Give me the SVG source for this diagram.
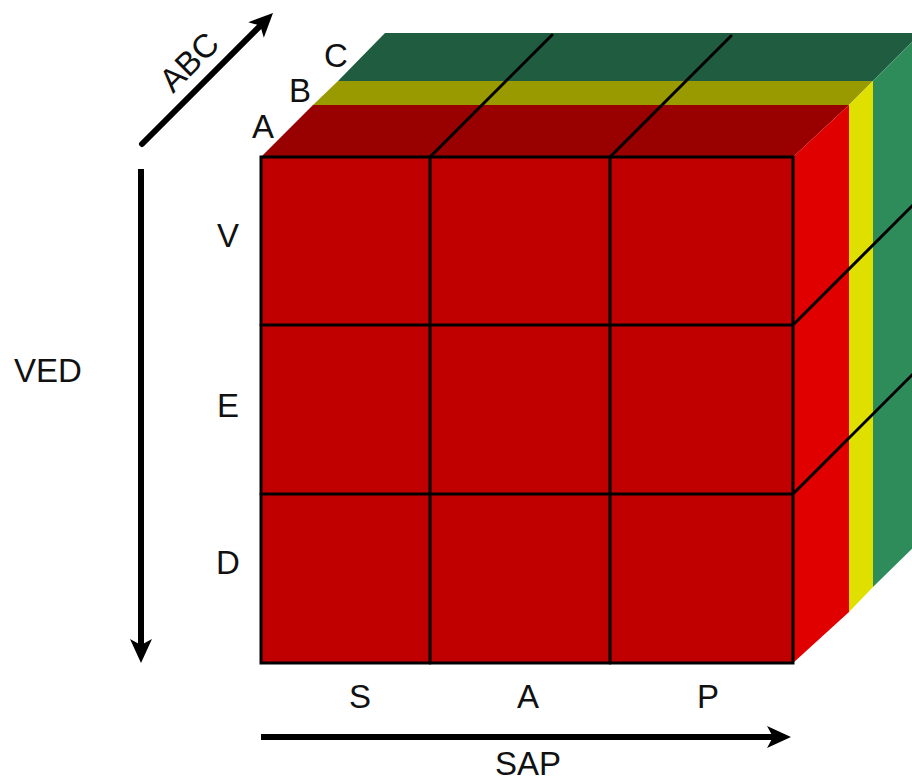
<svg xmlns="http://www.w3.org/2000/svg" width="912" height="783" viewBox="0 0 912 783">
  <style>
    .lbl { font-family: "Liberation Sans", Arial, sans-serif; font-size: 33px; fill: #111; text-anchor: middle; }
    .grid { stroke: #000; stroke-width: 3; fill: none; stroke-linecap: round; }
    .axis { stroke: #000; stroke-width: 6; fill: none; marker-end: url(#head); }
  </style>
  <defs>
    <marker id="head" markerUnits="userSpaceOnUse" viewBox="-9 -12 26 24" markerWidth="26" markerHeight="24" refX="0" refY="0" orient="auto">
      <path d="M16,0 L-8,-11 L-2,0 L-8,11 Z" fill="#000"/>
    </marker>
  </defs>
  <rect width="912" height="783" fill="#ffffff"/>

  <g id="slab-C">
    <polygon points="338,81 385,33 921,33 873,81" fill="#1f5c40"/>
    <polygon points="873,81 921,33 921,540 873,587" fill="#2e8b5a"/>
  </g>
  <g id="slab-B">
    <polygon points="313,105 338,81 873,81 849,105" fill="#999900"/>
    <polygon points="849,105 873,81 873,587 849,612" fill="#e0e000"/>
  </g>
  <g id="slab-A">
    <polygon points="261,157 313,105 849,105 793,157" fill="#990000"/>
    <polygon points="793,157 849,105 849,612 793,663" fill="#e00000"/>
    <rect x="261" y="157" width="532" height="506" fill="#c00000"/>
  </g>

  <g id="grid">
    <line class="grid" x1="430" y1="157" x2="552" y2="35"/>
    <line class="grid" x1="610" y1="157" x2="731" y2="36"/>
    <line class="grid" x1="793" y1="325" x2="917" y2="201"/>
    <line class="grid" x1="793" y1="494" x2="917" y2="370"/>
    <line class="grid" x1="430" y1="157" x2="430" y2="663"/>
    <line class="grid" x1="610" y1="157" x2="610" y2="663"/>
    <line class="grid" x1="261" y1="325" x2="793" y2="325"/>
    <line class="grid" x1="261" y1="494" x2="793" y2="494"/>
    <rect x="261" y="157" width="532" height="506" fill="none" stroke="#000" stroke-width="3"/>
  </g>

  <g id="connectors">
    <line class="axis" x1="142" y1="144" x2="261.7" y2="24.3" stroke-linecap="round"/>
    <line class="axis" x1="141" y1="169" x2="141" y2="647"/>
    <line class="axis" x1="261" y1="737" x2="775" y2="737"/>
  </g>

  <g id="labels">
    <text class="lbl" transform="translate(197,70) rotate(-45)">ABC</text>
    <text class="lbl" x="263" y="138">A</text>
    <text class="lbl" x="300" y="102">B</text>
    <text class="lbl" x="336" y="67">C</text>
    <text class="lbl" x="48" y="382">VED</text>
    <text class="lbl" x="228" y="247">V</text>
    <text class="lbl" x="228" y="417">E</text>
    <text class="lbl" x="228" y="574">D</text>
    <text class="lbl" x="360" y="708">S</text>
    <text class="lbl" x="528" y="708">A</text>
    <text class="lbl" x="708" y="708">P</text>
    <text class="lbl" x="528" y="775">SAP</text>
  </g>
</svg>
